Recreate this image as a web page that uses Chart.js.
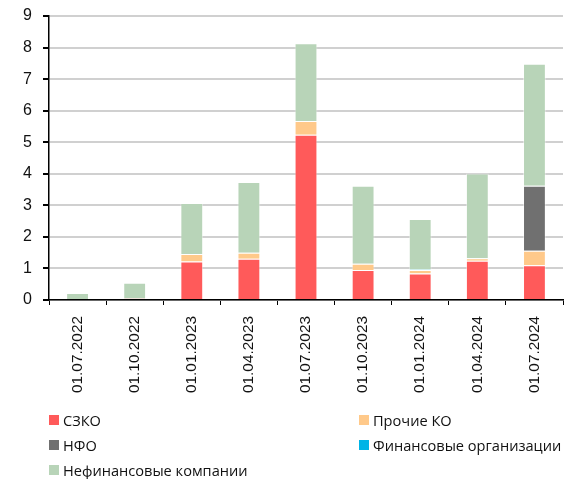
<!DOCTYPE html>
<html>
<head>
<meta charset="utf-8">
<script src="https://cdn.jsdelivr.net/npm/chart.js@4.4.0/dist/chart.umd.min.js"></script>
<style>
  html, body { margin: 0; padding: 0; background: #fff; }
  #wrap { position: relative; width: 565px; height: 479px; }
  #c { position: absolute; left: 0; top: 0; }
  .leg { position: absolute; font-family: "Open Sans", sans-serif; font-size: 14.6px; color: #111; white-space: nowrap; line-height: 18px; }
  .leg span.box { display: inline-block; width: 10px; height: 10px; position: absolute; left: 0; top: 4px; }
  .leg span.t { position: absolute; left: 14px; top: 0; }
</style>
</head>
<body>
<div id="wrap">
  <canvas id="c" width="565" height="479"></canvas>
</div>
<script>
const categories = ["01.07.2022","01.10.2022","01.01.2023","01.04.2023","01.07.2023","01.10.2023","01.01.2024","01.04.2024","01.07.2024"];
const szko    = [0.00, 0.05, 1.22, 1.31, 5.24, 0.95, 0.84, 1.24, 1.10];
const prochie = [0.00, 0.00, 0.24, 0.19, 0.43, 0.20, 0.11, 0.08, 0.46];
const nfo     = [0.00, 0.00, 0.00, 0.00, 0.00, 0.00, 0.00, 0.00, 2.06];
const finorg  = [0.00, 0.00, 0.00, 0.00, 0.00, 0.00, 0.02, 0.00, 0.00];
const nefin   = [0.22, 0.50, 1.61, 2.24, 2.47, 2.47, 1.60, 2.69, 3.87];
const yTicks  = [0,1,2,3,4,5,6,7,8,9];

const seriesNames = ["СЗКО","Прочие КО","НФО","Финансовые организации","Нефинансовые компании"];
const seriesColors = ["#FF5A5A","#FFC98A","#707070","#00B4E6","#B8D4B8"];
const seriesData = [szko, prochie, nfo, finorg, nefin];

const datasets = seriesData.map((d, i) => ({
  label: seriesNames[i],
  data: d,
  backgroundColor: seriesColors[i],
  borderColor: "rgba(255,255,255,0.45)",
  borderWidth: 1,
  barPercentage: 0.4,
  categoryPercentage: 1.0
}));

new Chart(document.getElementById("c"), {
  type: "bar",
  data: { labels: categories, datasets },
  options: {
    responsive: false,
    animation: false,
    devicePixelRatio: 1,
    layout: { padding: { left: 0, right: 2, top: 16, bottom: 79 } },
    plugins: { legend: { display: false }, tooltip: { enabled: false } },
    scales: {
      x: {
        stacked: true,
        grid: { display: true, drawOnChartArea: false, tickColor: "#000", tickLength: 5, offset: true },
        border: { color: "#000", width: 1.5 },
        ticks: {
          color: "#111", font: { family: "Liberation Sans", size: 15.4 },
          maxRotation: 90, minRotation: 90, padding: 11, autoSkip: false
        },
        afterFit: (s) => { s.height = 100; s.paddingLeft = 0; s.paddingRight = 0; }
      },
      y: {
        stacked: true,
        min: 0, max: 9,
        afterBuildTicks: (s) => { s.ticks = yTicks.map(v => ({ value: v })); },
        grid: { color: "#d0d0d0", lineWidth: 2, tickColor: "#000", tickLength: 6 },
        border: { color: "#000", width: 1.5 },
        ticks: { color: "#111", font: { family: "Liberation Sans", size: 16 }, padding: 11 },
        afterFit: (s) => { s.width = 49; s.paddingTop = 0; s.paddingBottom = 0; }
      }
    }
  }
});

// Legend (HTML), two columns
const legPos = [[49,411],[359,411],[49,436],[359,436],[49,461]];
const wrap = document.getElementById("wrap");
seriesNames.forEach((n, i) => {
  const d = document.createElement("div");
  d.className = "leg";
  d.style.left = legPos[i][0] + "px";
  d.style.top = legPos[i][1] + "px";
  d.innerHTML = '<span class="box" style="background:' + seriesColors[i] + '"></span><span class="t">' + n + '</span>';
  wrap.appendChild(d);
});
</script>
</body>
</html>
